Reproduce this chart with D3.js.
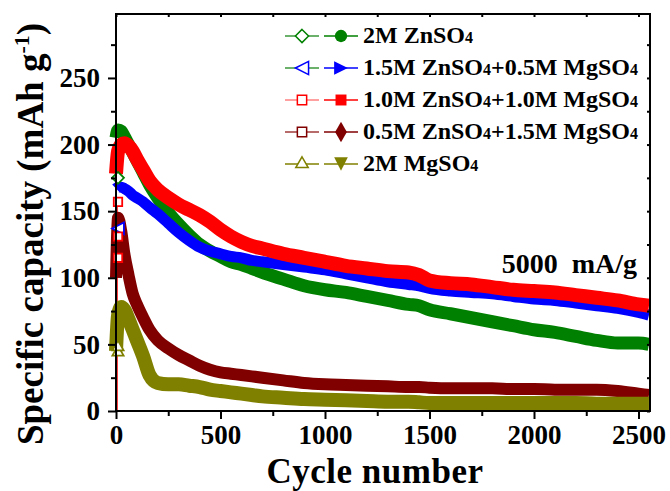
<!DOCTYPE html>
<html>
<head>
<meta charset="utf-8">
<script src="https://cdn.jsdelivr.net/npm/d3@7"></script>
<style>
  body { margin: 0; background: #fff; }
  text { font-family: "Liberation Serif", "Times New Roman", serif; font-weight: bold; }
</style>
</head>
<body>
<svg id="chart" width="670" height="491"></svg>
<script>
// cycle numbers shared by all series
var cycles = [0, 10, 25, 40, 60, 80, 100, 130, 160, 200, 250, 300, 350, 400, 450, 500, 550, 600, 650, 700,
  800, 900, 1000, 1100, 1200, 1300, 1400, 1450, 1500, 1600, 1700, 1800, 1900, 2000, 2100, 2200, 2300, 2400, 2500, 2550];

var zn2 = [205, 211, 210, 206, 200, 194, 188, 179, 170, 160, 149, 140, 132, 125, 120, 116, 112, 110, 107, 104,
  99, 94, 91, 89, 86, 83, 80, 79, 76, 73, 70, 67, 64, 61, 59, 56, 53, 51, 51, 50];
var zn15mg05 = [167, 168, 168, 167, 165, 162, 160, 157, 153, 148, 141, 134, 128, 123, 120, 118, 116, 115, 113, 112,
  110, 108, 106, 103, 100, 97, 95, 94, 92, 90, 89, 88, 86, 84, 83, 81, 79, 77, 74, 72];
var zn1mg1 = [178, 195, 200, 201, 199, 195, 189, 181, 173, 166, 160, 155, 151, 147, 142, 136, 131, 127, 124, 122,
  118, 115, 112, 109, 107, 105, 104, 102, 98, 96, 95, 93, 91, 90, 89, 87, 85, 83, 80, 79];
var zn05mg15 = [100, 145, 135, 118, 102, 88, 80, 70, 61, 53, 47, 42, 38, 34, 31, 29, 28, 27, 26, 25,
  23, 21, 20, 19.5, 19, 18.5, 18, 18, 17.5, 17, 17, 17, 16.5, 16.5, 16, 16, 16, 15, 13, 12];
var mg2 = [45, 72, 78, 76, 69, 61, 53, 41, 27, 21, 20, 20, 19, 18, 16, 15, 14, 13, 12, 11,
  10, 9, 8.5, 8, 7.5, 7, 7, 6.5, 6, 6, 6, 6, 6, 6, 6, 6, 5.5, 5.5, 5.5, 5.5];

var seriesNames = ['2M ZnSO4', '1.5M ZnSO4+0.5M MgSO4', '1.0M ZnSO4+1.0M MgSO4', '0.5M ZnSO4+1.5M MgSO4', '2M MgSO4'];
var seriesValues = [zn2, zn15mg05, zn1mg1, zn05mg15, mg2];

// a few open (charge) points that show at the very first cycles
var openSeries = [0, 1, 2, 2, 2, 4, 4];
var openCycles = [0, 0, 0, 0, 0, 0, 0];
var openValues = [175, 137, 157, 131, 115, 44, 48];

var yTicks = [0, 50, 100, 150, 200, 250];
var xTicks = [0, 500, 1000, 1500, 2000, 2500];

var colors = ['#008000', '#0000ff', '#ff0000', '#800000', '#808000'];
var openLineColors = ['#3a963a', '#3a963a', '#ff8080', '#a03a3a', '#808000'];
var bandWidth = [13, 11, 14, 12, 14];
var openShapes = [d3.symbolDiamond2, 'triLeft', d3.symbolSquare2, d3.symbolSquare2, d3.symbolTriangle2];
var fillShapes = [d3.symbolCircle, 'triRight', d3.symbolSquare, d3.symbolDiamond, 'triDown'];

var margin = { top: 14, right: 20, bottom: 80, left: 116 };
var width = 670 - margin.left - margin.right;
var height = 491 - margin.top - margin.bottom;

var svg = d3.select('#chart');
var g = svg.append('g').attr('transform', 'translate(' + margin.left + ',' + margin.top + ')');

var x = d3.scaleLinear().domain([0, 2555]).range([0, width]);
var y = d3.scaleLinear().domain([0, 298]).range([height, 0]);

// curves
var line = d3.line()
  .x(function (d) { return x(d[0]); })
  .y(function (d) { return y(d[1]); })
  .curve(d3.curveMonotoneX);

g.append('line')
  .attr('x1', x(0) + 1).attr('x2', x(0) + 1)
  .attr('y1', y(0)).attr('y2', y(157))
  .style('stroke', '#ff0000').style('stroke-width', 1.5);

seriesValues.forEach(function (vals, i) {
  g.append('path')
    .datum(cycles.map(function (c, k) { return [c, vals[k]]; }))
    .attr('d', line)
    .style('fill', 'none')
    .style('stroke', colors[i])
    .style('stroke-width', bandWidth[i])
    .style('stroke-linejoin', 'round')
    .style('stroke-linecap', 'butt');
});

function shapePath(shape, size) {
  var r = Math.sqrt(size) / 1.6;
  if (shape === 'triLeft') return 'M' + (-r) + ',0L' + r + ',' + (-r) + 'L' + r + ',' + r + 'Z';
  if (shape === 'triRight') return 'M' + r + ',0L' + (-r) + ',' + (-r) + 'L' + (-r) + ',' + r + 'Z';
  if (shape === 'triDown') return 'M0,' + r + 'L' + (-r) + ',' + (-r) + 'L' + r + ',' + (-r) + 'Z';
  return d3.symbol(shape, size)();
}

openValues.forEach(function (v, k) {
  var s = openSeries[k];
  g.append('path')
    .attr('d', shapePath(openShapes[s], 90))
    .attr('transform', 'translate(' + (x(openCycles[k]) + 2) + ',' + y(v) + ')')
    .style('fill', '#fff')
    .style('stroke', colors[s])
    .style('stroke-width', 1.8);
});

// axes
var xAxis = d3.axisBottom(x).tickValues(xTicks).tickSize(8).tickPadding(6).tickFormat(d3.format('d'));
var xMinor = d3.axisBottom(x).tickValues(d3.range(250, 2555, 500)).tickSize(5).tickFormat('');
var yAxis = d3.axisLeft(y).tickValues(yTicks).tickSize(8).tickPadding(8).tickFormat(d3.format('d'));
var yMinor = d3.axisLeft(y).tickValues([25, 75, 125, 175, 225, 275]).tickSize(5).tickFormat('');

g.append('g').attr('transform', 'translate(0,' + height + ')').call(xAxis);
g.append('g').attr('transform', 'translate(0,' + height + ')').call(xMinor);
g.append('g').call(yAxis);
g.append('g').call(yMinor);

g.append('g').call(d3.axisTop(x).tickValues(d3.range(0, 2555, 250)).tickSize(-3).tickFormat(''));
g.append('g').attr('transform', 'translate(' + width + ',0)')
  .call(d3.axisRight(y).tickValues(d3.range(0, 298, 25)).tickSize(-3).tickFormat(''));

g.selectAll('.domain').remove();
g.selectAll('.tick line').style('stroke', '#000').style('stroke-width', 2);
g.selectAll('.tick text').style('font-size', '27px').style('fill', '#000');

g.append('rect')
  .attr('x', 0).attr('y', 0)
  .attr('width', width).attr('height', height)
  .style('fill', 'none').style('stroke', '#000').style('stroke-width', 2);

// axis titles
svg.append('text')
  .attr('x', 375).attr('y', 483)
  .attr('text-anchor', 'middle')
  .style('font-size', '35px')
  .style('letter-spacing', '0.5px')
  .text('Cycle number');

var yt = svg.append('text')
  .attr('transform', 'translate(43,234) rotate(-90)')
  .attr('text-anchor', 'middle')
  .style('font-size', '37px');
yt.append('tspan').text('Specific capacity (mAh g');
yt.append('tspan').attr('dy', -14).style('font-size', '22px').text('-1');
yt.append('tspan').attr('dy', 14).text(')');

svg.append('text')
  .attr('x', 637).attr('y', 273)
  .attr('text-anchor', 'end')
  .style('font-size', '28px')
  .style('word-spacing', '7px')
  .text('5000 mA/g');

// legend
var legend = svg.append('g').attr('transform', 'translate(285,36)');
seriesNames.forEach(function (name, i) {
  var row = legend.append('g').attr('transform', 'translate(0,' + (i * 32) + ')');
  row.append('line').attr('x1', 0).attr('x2', 34).attr('y1', 0).attr('y2', 0)
    .style('stroke', openLineColors[i]).style('stroke-width', 1.5);
  row.append('line').attr('x1', 39).attr('x2', 73).attr('y1', 0).attr('y2', 0)
    .style('stroke', colors[i]).style('stroke-width', 1.5);
  row.append('path').attr('d', shapePath(openShapes[i], 110))
    .attr('transform', 'translate(17,0)')
    .style('fill', '#fff').style('stroke', colors[i]).style('stroke-width', 1.5);
  row.append('path').attr('d', shapePath(fillShapes[i], 120))
    .attr('transform', 'translate(56,0)')
    .style('fill', colors[i]);

  var t = row.append('text').attr('x', 78).attr('y', 7).style('font-size', '24px');
  name.split(/(SO4)/).forEach(function (part) {
    if (part === 'SO4') {
      t.append('tspan').text('SO');
      t.append('tspan').style('font-size', '16px').text('4');
    } else if (part) {
      t.append('tspan').text(part);
    }
  });
});
</script>
</body>
</html>
